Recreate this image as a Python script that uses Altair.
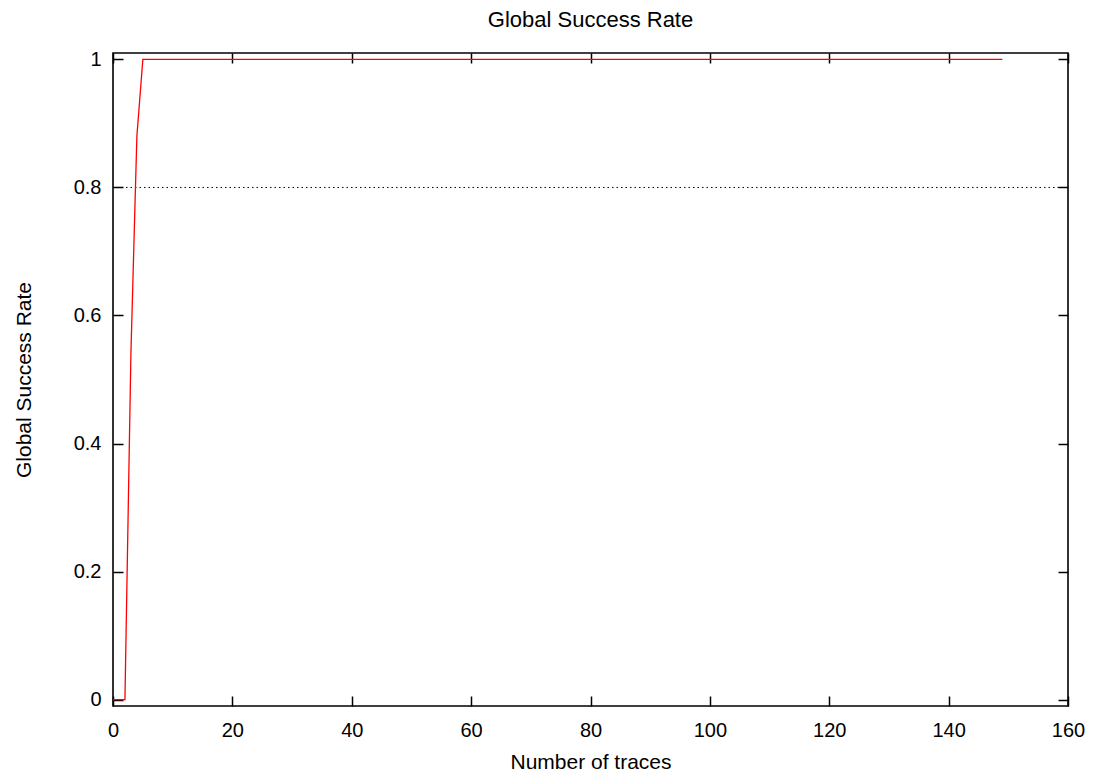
import altair as alt
import pandas as pd

# Data
trace_counts = list(range(0, 150))
success_rate = [0.0, 0.0, 0.0, 0.54, 0.88] + [1.0] * 145
x_ticks = [0, 20, 40, 60, 80, 100, 120, 140, 160]
y_ticks = [0, 0.2, 0.4, 0.6, 0.8, 1]
reference_level = [0.8]

df = pd.DataFrame({"x": trace_counts, "y": success_rate})
ref_df = pd.DataFrame({"v": reference_level})

W, H = 955, 653
FONT = "Liberation Sans"

xscale = alt.Scale(domain=[0, 160], nice=False, zero=False)
yscale = alt.Scale(domain=[-0.01, 1.01], nice=False, zero=False)

def tick_axis(orient, offset, values):
    return alt.Axis(orient=orient, offset=offset, values=values, labels=False,
                    domain=False, grid=False, ticks=True, tickSize=10,
                    tickWidth=1.5, tickColor="black", title=None)

ref = alt.Chart(ref_df).mark_rule(color="black", strokeWidth=1, strokeDash=[1.5, 3]).encode(
    y=alt.Y("v:Q", scale=yscale, axis=None)
)

line = alt.Chart(df).mark_line(color="#ff0000", strokeWidth=1.3).encode(
    x=alt.X("x:Q", scale=xscale,
            axis=alt.Axis(orient="bottom", values=x_ticks, ticks=False, tickSize=0,
                          domain=False, grid=False, labelPadding=14, labelFlush=False,
                          labelFont=FONT, labelFontSize=20, labelColor="black",
                          title="Number of traces", titlePadding=11,
                          titleFont=FONT, titleFontSize=21, titleFontWeight="normal",
                          titleColor="black")),
    y=alt.Y("y:Q", scale=yscale,
            axis=alt.Axis(orient="left", values=y_ticks, ticks=False, tickSize=0,
                          domain=False, grid=False, labelPadding=12, format="~g",
                          labelFlush=False,
                          labelFont=FONT, labelFontSize=20, labelColor="black",
                          title="Global Success Rate", titlePadding=39,
                          titleFont=FONT, titleFontSize=21, titleFontWeight="normal",
                          titleColor="black")),
)

ticks_a = alt.Chart(df).mark_point(opacity=0).encode(
    x=alt.X("x:Q", scale=xscale, axis=tick_axis("top", -H, x_ticks)),
    y=alt.Y("y:Q", scale=yscale, axis=tick_axis("right", -W, y_ticks)),
)
ticks_b = alt.Chart(df).mark_point(opacity=0).encode(
    x=alt.X("x:Q", scale=xscale, axis=tick_axis("bottom", -H, x_ticks)),
    y=alt.Y("y:Q", scale=yscale, axis=tick_axis("left", -W, y_ticks)),
)

chart = (
    alt.layer(ref, line, ticks_a, ticks_b)
    .resolve_scale(x="shared", y="shared")
    .resolve_axis(x="independent", y="independent")
    .properties(
        width=W, height=H,
        autosize=alt.AutoSizeParams(type="none"),
        padding={"left": 105, "top": 45, "right": 20, "bottom": 70},
        title=alt.TitleParams("Global Success Rate", font=FONT, fontSize=22,
                              fontWeight="normal", color="black", anchor="middle",
                              offset=17),
    )
    .configure_view(stroke="black", strokeWidth=1.6)
)

chart.save("out.html", embed_options={"renderer": "svg", "actions": False})
